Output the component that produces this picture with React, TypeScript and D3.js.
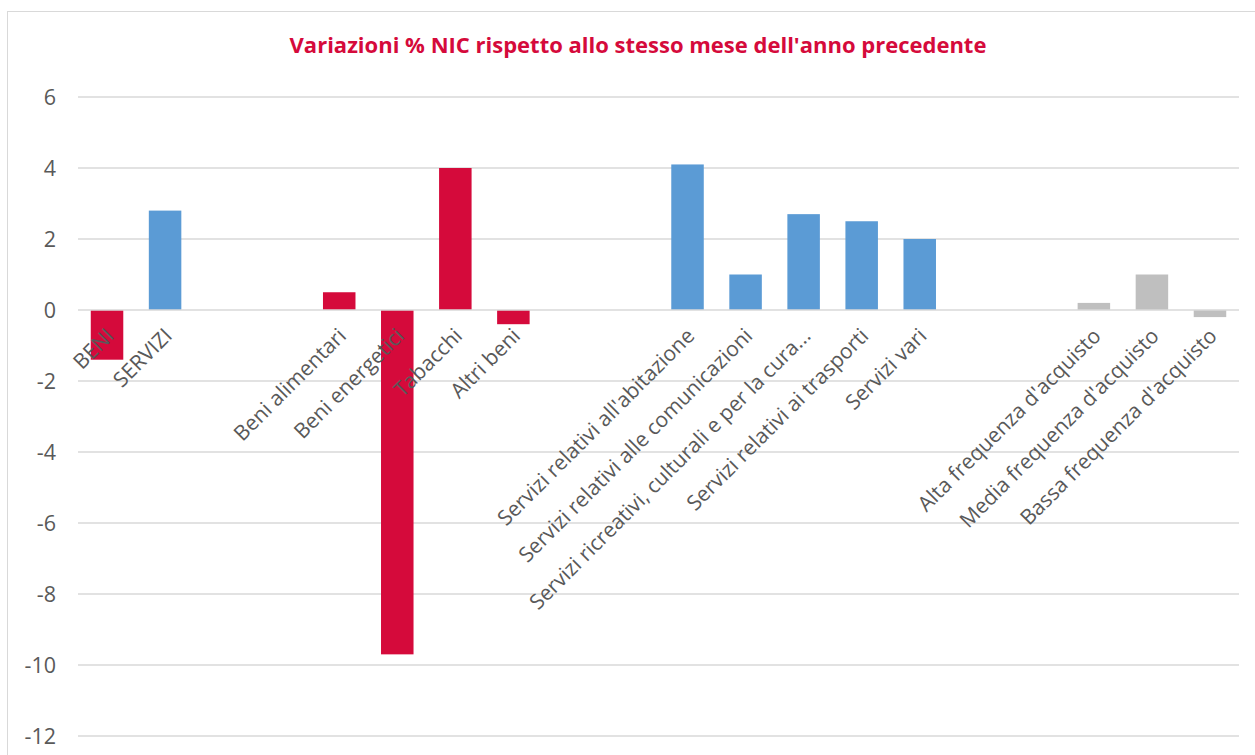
import * as React from "react";
import * as d3 from "d3";

const TITLE = "Variazioni % NIC rispetto allo stesso mese dell'anno precedente";

// empty strings are the blank slots between groups
const categories = [
  "BENI", "SERVIZI", "", "",
  "Beni alimentari", "Beni energetici", "Tabacchi", "Altri beni", "", "",
  "Servizi relativi all'abitazione", "Servizi relativi alle comunicazioni",
  "Servizi ricreativi, culturali e per la cura...", "Servizi relativi ai trasporti",
  "Servizi vari", "", "",
  "Alta frequenza d'acquisto", "Media frequenza d'acquisto", "Bassa frequenza d'acquisto",
];
const values: (number | null)[] = [
  -1.4, 2.8, null, null,
  0.5, -9.7, 4.0, -0.4, null, null,
  4.1, 1.0, 2.7, 2.5, 2.0, null, null,
  0.2, 1.0, -0.2,
];
const groups = [
  "beni", "servizi", "", "",
  "beni", "beni", "beni", "beni", "", "",
  "servizi", "servizi", "servizi", "servizi", "servizi", "", "",
  "freq", "freq", "freq",
];
const yTicks = [6, 4, 2, 0, -2, -4, -6, -8, -10, -12];

const COLORS: Record<string, string> = {
  beni: "#D50A3B",
  servizi: "#5B9BD5",
  freq: "#BFBFBF",
};

const W = 1255;
const H = 755;
const FONT = "'Open Sans', 'DejaVu Sans', sans-serif";

export default function App() {
  const svgRef = React.useRef<SVGSVGElement>(null);

  React.useEffect(() => {
    const svg = d3.select(svgRef.current);
    svg.selectAll("*").remove();

    const x = d3
      .scaleBand<number>()
      .domain(d3.range(categories.length))
      .range([78, 1239])
      .paddingInner(0.44)
      .paddingOuter(0.22);
    const y = d3.scaleLinear().domain([-12, 6]).range([736, 97]);

    // chart frame
    svg.append("rect")
      .attr("x", 7.5).attr("y", 11.5)
      .attr("width", W).attr("height", H)
      .attr("fill", "#fff")
      .attr("stroke", "#d9d9d9");

    svg.append("text")
      .attr("x", 638).attr("y", 47)
      .attr("text-anchor", "middle")
      .attr("dominant-baseline", "middle")
      .attr("font-family", FONT)
      .attr("font-weight", 700)
      .attr("font-size", 22)
      .attr("fill", "#D50A3B")
      .text(TITLE);

    // gridlines
    svg.append("g")
      .selectAll("line")
      .data(yTicks.filter((t) => t !== 0))
      .join("line")
      .attr("x1", 78).attr("x2", 1239)
      .attr("y1", (d) => y(d)).attr("y2", (d) => y(d))
      .attr("stroke", "#d9d9d9")
      .attr("stroke-width", 1.5);

    svg.append("g")
      .selectAll("text")
      .data(yTicks)
      .join("text")
      .attr("x", 56)
      .attr("y", (d) => y(d))
      .attr("dy", "0.35em")
      .attr("text-anchor", "end")
      .attr("font-family", FONT)
      .attr("font-size", 21.5)
      .attr("fill", "#595959")
      .text((d) => d);

    const idx = d3.range(categories.length).filter((i) => values[i] != null);

    svg.append("g")
      .selectAll("rect")
      .data(idx)
      .join("rect")
      .attr("x", (i) => x(i)!)
      .attr("width", x.bandwidth())
      .attr("y", (i) => Math.min(y(values[i]!), y(0)))
      .attr("height", (i) => Math.abs(y(values[i]!) - y(0)))
      .attr("fill", (i) => COLORS[groups[i]]);

    // zero axis on top of the bars
    svg.append("line")
      .attr("x1", 78).attr("x2", 1239)
      .attr("y1", y(0)).attr("y2", y(0))
      .attr("stroke", "#d9d9d9")
      .attr("stroke-width", 1.5);

    svg.append("g")
      .selectAll("text")
      .data(idx)
      .join("text")
      .attr("transform", (i) => `translate(${x(i)! + x.bandwidth() / 2 + 3},${y(0) + 22}) rotate(-45)`)
      .attr("dy", "0.35em")
      .attr("text-anchor", "end")
      .attr("font-family", FONT)
      .attr("font-size", 21)
      .attr("fill", "#595959")
      .text((i) => categories[i]);
  }, []);

  return (
    <svg
      ref={svgRef}
      width={W}
      height={H}
      style={{ position: "absolute", left: 0, top: 0, display: "block" }}
    />
  );
}
